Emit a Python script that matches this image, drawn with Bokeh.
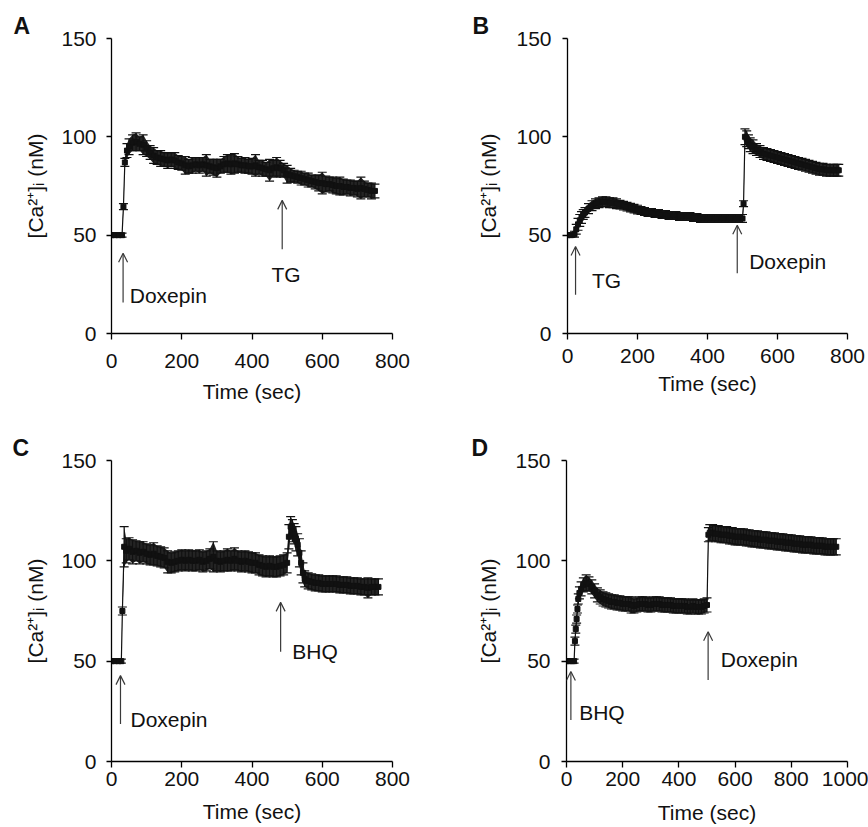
from bokeh.plotting import figure
from bokeh.layouts import column, row
from bokeh.models import (Range1d, FixedTicker, Whisker, TeeHead, ColumnDataSource,
                          Label, Arrow, OpenHead)
from bokeh.embed import file_html
from bokeh.resources import INLINE

FONT = "Liberation Sans"
Y_LABEL = "[Ca\u00b2\u207a]\u1d62 (nM)"
X_LABEL = "Time (sec)"
Y_TICKS = [0, 50, 100, 150]
X_TICKS_ABC = [0, 200, 400, 600, 800]
X_TICKS_D = [0, 200, 400, 600, 800, 1000]

# ---------------- Panel A: Doxepin then TG ----------------
time_A = [0, 10, 20, 30, 34, 38, 44,
          50, 60, 70, 80, 90, 100, 110, 120, 130, 140,
          150, 160, 170, 180, 190, 200, 210, 220, 230, 240,
          250, 260, 270, 280, 290, 300, 310, 320, 330, 340,
          350, 360, 370, 380, 390, 400, 410, 420, 430, 440,
          450, 460, 470, 480, 490, 500, 510, 520, 530, 540,
          550, 560, 570, 580, 590, 600, 610, 620, 630, 640,
          650, 660, 670, 680, 690, 700, 710, 720, 730, 740,
          750]
mean_A = [50, 50, 50, 50, 64.5, 87, 93,
          95, 97, 97.5, 96.5, 96, 94, 92, 90.5, 89.5, 89,
          88.5, 88, 88.5, 88, 87, 86.5, 85.5, 85, 85.5, 86,
          85.5, 86, 85.5, 85, 84.5, 84, 85, 86, 86.5, 86,
          86.5, 86, 85.5, 85.5, 85, 85, 85.5, 84.5, 84, 83.5,
          83, 84, 84.5, 84, 83, 81, 80.5, 80, 79.5, 79,
          78.5, 78, 77.5, 77, 76.5, 76.5, 76, 76, 75.5, 75,
          75, 74.5, 74.5, 74, 74, 73.5, 74, 73.5, 73, 72.5,
          72.5]
sem_A = [1, 1, 1, 1, 1.5, 2.0, 3.5,
         4.0, 4.0, 4.5, 3.5, 5.0, 4.0, 3.5, 4.0, 3.5, 4.0,
         3.5, 4.0, 3.5, 4.0, 3.5, 3.5, 4.5, 3.5, 4.0, 3.5,
         4.0, 3.5, 5.5, 3.5, 4.0, 4.5, 3.5, 4.0, 4.5, 5.0,
         5.0, 4.0, 3.5, 4.0, 3.5, 4.0, 5.5, 3.5, 4.0, 3.5,
         5.5, 4.0, 5.0, 4.0, 3.5, 4.5, 3.5, 3.0, 3.0, 3.5,
         3.0, 3.5, 3.0, 3.5, 4.0, 5.5, 4.0, 3.5, 4.0, 4.0,
         4.5, 4.0, 3.5, 4.0, 3.5, 4.0, 5.5, 4.0, 3.5, 4.0,
         3.5]

# ---------------- Panel B: TG then Doxepin ----------------
time_B = [0, 10, 20, 25, 30, 35, 40, 45,
          50, 60, 70, 80, 90, 100, 110, 120, 130, 140,
          150, 160, 170, 180, 190, 200, 210, 220, 230, 240,
          250, 260, 270, 280, 290, 300, 310, 320, 330, 340,
          350, 360, 370, 380, 390, 400, 410, 420, 430, 440,
          450, 460, 470, 480, 490, 500,
          503, 507, 512, 517, 522,
          530, 540, 550, 560, 570, 580, 590, 600, 610, 620,
          630, 640, 650, 660, 670, 680, 690, 700, 710, 720,
          730, 740, 750, 760, 770, 775]
mean_B = [50, 50, 50.5, 53, 55.5, 57.5, 59, 60.5,
          61.5, 63.5, 65, 66, 66.5, 67, 67, 66.5, 66.5, 66,
          65.5, 65, 64.5, 64, 63.5, 63, 62.5, 62, 61.5, 61.5,
          61, 61, 60.5, 60.5, 60, 60, 60, 59.5, 59.5, 59.5,
          59.5, 59, 59, 58.5, 58.5, 58.5, 58.5, 58.5, 58.5, 58.5,
          58.5, 58.5, 58.5, 58.5, 58.5, 58.5,
          66, 100, 99, 97.5, 96,
          95, 93.5, 92.5, 91.5, 91, 90.5, 90, 89.5, 89, 88.5,
          88, 87.5, 87, 86.5, 86, 85.5, 85, 84.5, 84, 83.5,
          83.5, 83, 83, 83, 83, 83]
sem_B = [1, 1, 1.5, 2.5, 3, 3, 3, 2.5,
         2.5, 2.5, 2.5, 2.5, 2.5, 2.5, 2.5, 2.5, 2.5, 2.5,
         2.2, 2.2, 2.2, 2.2, 2.2, 2.2, 2.0, 2.0, 2.0, 2.0,
         2.0, 2.0, 2.0, 2.0, 2.0, 2.0, 2.0, 2.0, 2.0, 2.0,
         2.0, 2.0, 2.0, 2.0, 2.0, 2.0, 2.0, 2.0, 2.0, 2.0,
         2.0, 2.0, 2.0, 2.0, 2.0, 2.0,
         1.5, 4.0, 4.0, 3.5, 3.5,
         3.5, 3.0, 3.0, 3.0, 3.0, 3.0, 3.0, 3.0, 3.0, 3.0,
         3.0, 3.0, 3.0, 3.0, 3.0, 3.0, 3.0, 3.0, 3.0, 3.0,
         3.0, 3.0, 3.0, 3.0, 3.0, 3.0]

# ---------------- Panel C: Doxepin then BHQ ----------------
time_C = [0, 10, 20, 28, 31, 36, 42,
          50, 60, 70, 80, 90, 100, 110, 120, 130, 140,
          150, 160, 170, 180, 190, 200, 210, 220, 230, 240,
          250, 260, 270, 280, 290, 300, 310, 320, 330, 340,
          350, 360, 370, 380, 390, 400, 410, 420, 430, 440,
          450, 460, 470, 480, 490, 500,
          505, 510, 515, 520, 525, 530, 535, 540, 545,
          550, 560, 570, 580, 590, 600, 610, 620, 630, 640,
          650, 660, 670, 680, 690, 700, 710, 720, 730, 740,
          750, 760]
mean_C = [50, 50, 50, 50, 75, 107, 105,
          106, 104.5, 105, 104, 104.5, 103.5, 103, 103.5, 102.5, 102,
          101.5, 99.5, 99, 99.5, 100, 100.5, 100, 100.5, 100, 100,
          100.5, 99.5, 100, 101, 102, 100, 99.5, 100, 100.5, 100,
          101, 100, 99.5, 100, 99.5, 99, 99, 98, 97.5, 97,
          97.5, 97, 97, 97.5, 98, 99,
          112, 117, 115, 113.5, 111, 108, 104, 99, 94,
          91, 90, 89.5, 89, 89, 88.5, 88.5, 88.5, 88.5, 88.5,
          88, 88, 88, 87.5, 87.5, 87.5, 87, 87, 86.5, 87,
          87, 87]
sem_C = [1, 1, 1, 1, 2, 10, 6,
         5.5, 6.0, 5.0, 5.5, 5.0, 5.0, 5.0, 5.5, 5.0, 5.0,
         5.0, 5.5, 5.0, 5.0, 5.0, 5.0, 5.0, 5.0, 5.0, 5.0,
         5.0, 5.0, 5.0, 5.0, 7.5, 5.0, 5.0, 5.0, 5.5, 5.0,
         5.5, 5.0, 5.0, 5.0, 5.0, 5.0, 5.0, 5.0, 5.0, 5.0,
         5.0, 5.0, 5.0, 5.0, 5.0, 5.0,
         6.0, 5.0, 5.5, 5.0, 6.0, 5.5, 7.0, 6.0, 5.0,
         4.0, 4.0, 4.0, 4.0, 4.0, 4.0, 4.0, 4.0, 4.0, 4.0,
         4.0, 4.0, 4.0, 4.0, 4.0, 4.0, 4.0, 4.0, 5.0, 4.0,
         4.0, 4.0]

# ---------------- Panel D: BHQ then Doxepin ----------------
time_D = [0, 10, 20, 27, 30, 33, 36, 39, 42, 46, 52,
          60, 70, 80, 90, 100, 110, 120, 130, 140, 150,
          160, 170, 180, 190, 200, 210, 220, 230, 240, 250,
          260, 270, 280, 290, 300, 310, 320, 330, 340, 350,
          360, 370, 380, 390, 400, 410, 420, 430, 440, 450,
          460, 470, 480, 490, 500,
          505,
          510, 520, 530, 540, 550, 560, 570, 580, 590, 600,
          610, 620, 630, 640, 650, 660, 670, 680, 690, 700,
          710, 720, 730, 740, 750, 760, 770, 780, 790, 800,
          810, 820, 830, 840, 850, 860, 870, 880, 890, 900,
          910, 920, 930, 940, 950, 960]
mean_D = [50, 50, 50, 50, 60, 66, 71, 76, 81, 84, 86,
          88, 89, 88.5, 87, 85, 83, 82, 81, 80.5, 80,
          79.5, 79.5, 79, 79, 78.5, 78.5, 78.5, 78, 77.5, 78,
          78.5, 78.5, 78.5, 78, 78, 78.5, 78.5, 78.5, 78, 78,
          78, 78, 77.5, 77.5, 77.5, 77.5, 77.5, 77, 77, 77.5,
          77, 77, 77, 77.5, 78,
          113,
          114, 114, 113.5, 113.5, 113, 113, 113, 112.5, 112.5, 112,
          112, 112, 112, 111.5, 111.5, 111, 111, 111, 110.5, 110.5,
          110.5, 110, 110, 110, 109.5, 109.5, 109.5, 109, 109, 109,
          108.5, 108.5, 108.5, 108, 108, 108, 108, 107.5, 107.5, 107.5,
          107.5, 107, 107, 107, 107, 107]
sem_D = [1, 1, 1, 1, 2, 2, 2, 2, 2.5, 3, 3.5,
         3.5, 4, 3.5, 3.5, 3.5, 3.5, 3.5, 3.5, 3.5, 3.5,
         3.5, 3.5, 3.5, 3.5, 3.5, 3.5, 3.5, 4, 3.5, 3.5,
         3.5, 3.5, 3.5, 3.5, 3.5, 3.5, 3.5, 3.5, 3.5, 3.5,
         3.5, 3.5, 3.5, 3.5, 3.5, 3.5, 3.5, 3.5, 3.5, 3.5,
         3.5, 3.5, 3.5, 3.5, 3.5,
         3.5,
         4, 4, 4, 4, 4, 4, 4, 4, 4, 4,
         4, 4, 4, 4, 4, 4, 4, 4, 4, 4,
         4, 4, 4, 4, 4, 4, 4, 4, 4, 4,
         4, 4, 4, 4, 4, 4, 4, 4, 4, 4,
         4, 4, 4, 4, 4, 4]

ARROW_COLOR = "#3a3a3a"
DATA_COLOR = "#111111"


def make_panel(t, m, s, xmax, xticks, width, height, mbl, mbr, mbt, mbb,
               letter, letter_offset, arrows, xstand, xlabstand, ystand, ylabstand):
    p = figure(width=width, height=height, x_range=Range1d(0, xmax),
               y_range=Range1d(0, 150), output_backend="svg", toolbar_location=None,
               min_border_left=mbl, min_border_right=mbr, min_border_top=mbt,
               min_border_bottom=mbb, title=letter)
    p.outline_line_color = None
    p.grid.visible = False
    p.background_fill_color = "white"
    p.border_fill_color = "white"

    p.title.text_font = FONT
    p.title.text_font_size = "23px"
    p.title.text_font_style = "bold"
    p.title.text_color = "#111111"
    p.title.align = "left"
    p.title.offset = letter_offset
    p.title.standoff = 0

    lo = [a - b for a, b in zip(m, s)]
    hi = [a + b for a, b in zip(m, s)]
    src = ColumnDataSource(dict(t=t, m=m, lo=lo, hi=hi))
    p.varea(x="t", y1="lo", y2="hi", source=src, fill_color=DATA_COLOR, fill_alpha=0.92)
    p.add_layout(Whisker(source=src, base="t", lower="lo", upper="hi",
                         line_color=DATA_COLOR, line_width=1.2,
                         upper_head=TeeHead(size=9, line_color=DATA_COLOR, line_width=1.2),
                         lower_head=TeeHead(size=9, line_color=DATA_COLOR, line_width=1.2)))
    p.line("t", "m", source=src, line_color=DATA_COLOR, line_width=1.2)
    p.scatter("t", "m", source=src, marker="square", size=5, color=DATA_COLOR)

    p.xaxis.ticker = FixedTicker(ticks=xticks)
    p.yaxis.ticker = FixedTicker(ticks=Y_TICKS)
    p.xaxis.axis_label = X_LABEL
    p.yaxis.axis_label = Y_LABEL
    for ax in (p.xaxis, p.yaxis):
        ax.axis_line_color = "black"
        ax.axis_line_width = 1.3
        ax.major_tick_line_color = "black"
        ax.major_tick_line_width = 1.3
        ax.major_tick_in = 0
        ax.minor_tick_in = 0
        ax.minor_tick_out = 0
        ax.major_label_text_font = FONT
        ax.major_label_text_font_size = "21px"
        ax.major_label_text_color = "#111111"
        ax.axis_label_text_font = FONT
        ax.axis_label_text_font_size = "21px"
        ax.axis_label_text_font_style = "normal"
        ax.axis_label_text_color = "#111111"
    p.xaxis.major_tick_out = 6
    p.yaxis.major_tick_out = 5
    p.xaxis.major_label_standoff = xstand
    p.xaxis.axis_label_standoff = xlabstand
    p.yaxis.major_label_standoff = ystand
    p.yaxis.axis_label_standoff = ylabstand

    for (ax_t, y0, y1, txt, tx, ty, align) in arrows:
        p.add_layout(Arrow(x_start=ax_t, y_start=y0, x_end=ax_t, y_end=y1,
                           line_color=ARROW_COLOR, line_width=1.2,
                           end=OpenHead(size=9, line_color=ARROW_COLOR, line_width=1.2)))
        p.add_layout(Label(x=tx, y=ty, text=txt, text_font=FONT, text_font_size="21px",
                           text_baseline="alphabetic", text_align=align,
                           text_color="#111111"))
    return p


pA = make_panel(time_A, mean_A, sem_A, 800, X_TICKS_ABC, 434, 413, 111, 42, 36, 80,
                "A", -98,
                [(33, 15.8, 40.8, "Doxepin", 52, 19.5, "left"),
                 (486, 42.8, 67.7, "TG", 497, 30.2, "center")],
                14, 9, 10, 11)
pB = make_panel(time_B, mean_B, sem_B, 800, X_TICKS_ABC, 434, 413, 133, 21, 38, 75,
                "B", -95,
                [(23, 19.7, 44.2, "TG", 70, 27.2, "left"),
                 (485, 30.6, 55.0, "Doxepin", 519, 36.7, "left")],
                9, 6, 11, 13)
pC = make_panel(time_C, mean_C, sem_C, 800, X_TICKS_ABC, 434, 414, 111, 42, 46, 66,
                "C", -99,
                [(25.6, 18.7, 42.8, "Doxepin", 54, 20.7, "left"),
                 (481.5, 54.7, 79.3, "BHQ", 514.5, 54.9, "left")],
                4, 11, 10, 11)
pD = make_panel(time_D, mean_D, sem_D, 1000, X_TICKS_D, 434, 414, 132, 21, 47, 66,
                "D", -95,
                [(15.6, 20.7, 44.8, "BHQ", 45, 24.4, "left"),
                 (504, 40.6, 64.7, "Doxepin", 549, 50.9, "left")],
                4, 12, 11, 12)

layout = column(row(pA, pB), row(pC, pD))
open("out.html", "w").write(file_html(layout, INLINE))
